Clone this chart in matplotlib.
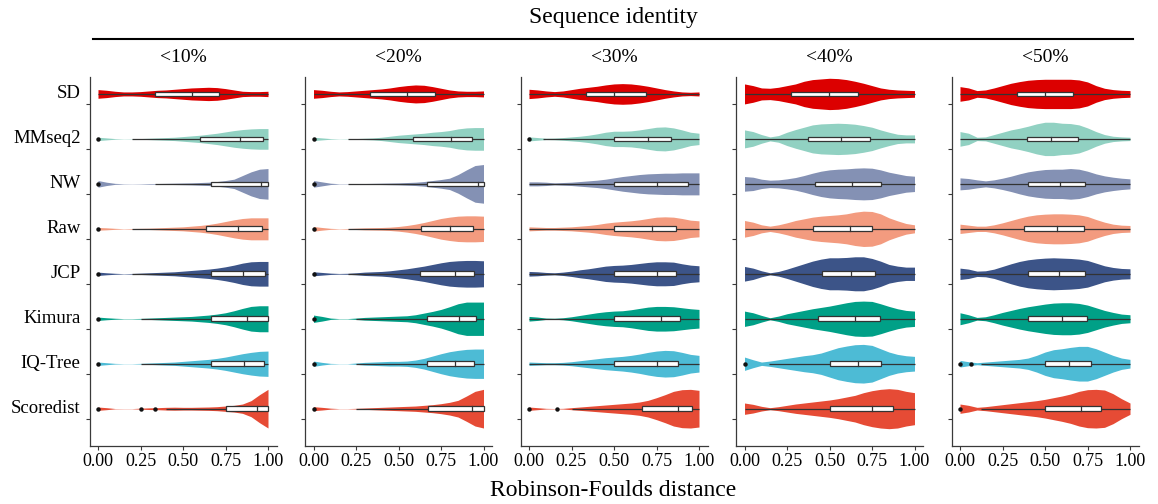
import matplotlib
matplotlib.use("Agg")
import matplotlib.pyplot as plt
from matplotlib.patches import Rectangle
import numpy as np

plt.rcParams['font.family'] = ['Liberation Serif', 'DejaVu Serif']

# ---------------- data ----------------
methods = ["SD", "MMseq2", "NW", "Raw", "JCP", "Kimura", "IQ-Tree", "Scoredist"]
panels = ["<10%", "<20%", "<30%", "<40%", "<50%"]
colors = ["#DC0000", "#91D1C2", "#8491B4", "#F39B7F", "#3C5488", "#00A087", "#4DBBD5", "#E64B35"]
xticks = [0.00, 0.25, 0.50, 0.75, 1.00]
xticklabels = ["0.00", "0.25", "0.50", "0.75", "1.00"]

# grid of distance values on which violin densities were read
grid = [0.00, 0.05, 0.10, 0.15, 0.20, 0.25, 0.30, 0.35, 0.40, 0.45, 0.50,
        0.55, 0.60, 0.65, 0.70, 0.75, 0.80, 0.85, 0.90, 0.95, 1.00]

# relative violin densities (half-widths, arbitrary units), rows follow `methods`
dens_10 = [
    [13, 11, 8, 6, 6, 7, 9, 11, 12, 14, 16, 18, 19, 20, 19, 16, 12, 8, 7, 7, 8],
    [5, 3, 1, 0.3, 0.5, 1, 2, 3, 4, 5, 7, 9, 11, 14, 17, 21, 25, 28, 30, 31, 31],
    [10, 5, 1.5, 0.5, 0.3, 0.5, 1, 1, 1.5, 2, 2.5, 3, 4, 5, 7, 10, 14, 25, 36, 44, 46],
    [4, 3, 1.5, 0.5, 1, 1.5, 2, 3, 4, 5, 6, 8, 10, 13, 17, 22, 27, 31, 33, 33, 33],
    [5, 3, 1.5, 0.5, 1, 2, 3, 4, 5, 6, 8, 10, 12, 14, 17, 21, 26, 32, 36, 37, 37],
    [5, 3, 1.5, 0.5, 0.5, 1, 2, 3, 4, 5, 6, 7, 9, 11, 14, 18, 24, 31, 37, 39, 39],
    [5, 3, 1, 0.3, 0.3, 1, 2, 3, 4, 5, 7, 9, 11, 13, 16, 20, 25, 30, 34, 37, 38],
    [5, 3, 0.5, 0.3, 0.3, 1.5, 2.5, 3, 4, 4.5, 4, 4, 4.5, 5, 6, 8, 10, 14, 24, 42, 58],
]
dens_20 = [
    [13, 11, 8, 6, 7, 9, 11, 13, 15, 18, 22, 25, 27, 26, 22, 17, 12, 9, 8, 8, 9],
    [5, 3, 1, 0.3, 0.5, 1, 2, 3, 5, 8, 11, 13, 15, 17, 20, 22, 25, 30, 33, 34, 34],
    [10, 6, 2, 0.5, 0.5, 1, 1, 1.5, 2, 2.5, 3, 4, 5, 7, 10, 13, 17, 28, 42, 55, 58],
    [7, 4, 1.5, 0.5, 1, 2, 3, 3.5, 4, 5, 7, 10, 14, 19, 25, 31, 35, 38, 39, 39, 38],
    [6, 4, 2, 1, 1.5, 3, 5, 6, 7, 9, 12, 15, 19, 23, 28, 33, 37, 39, 40, 40, 39],
    [11, 7, 2, 0.5, 0.5, 2, 4, 5, 6, 7, 8, 9, 12, 17, 22, 28, 36, 45, 50, 50, 50],
    [8, 4, 1, 0.3, 0.3, 2, 4, 5, 6, 7, 7, 8, 11, 16, 23, 30, 36, 40, 43, 44, 44],
    [6, 4, 1.5, 0.3, 0.3, 1, 2, 3, 4, 5, 6, 7, 8, 10, 12, 15, 19, 25, 38, 52, 58],
]
dens_30 = [
    [14, 12, 9, 7, 9, 13, 17, 20, 23, 27, 30, 31, 30, 27, 23, 18, 13, 9, 6, 5, 6],
    [6, 4, 2, 2.5, 4, 6, 8, 11, 15, 20, 23, 23, 24, 27, 31, 35, 36, 33, 27, 20, 17],
    [6, 6, 5, 3, 4, 5, 7, 9, 11, 14, 18, 22, 25, 28, 30, 31, 32, 32, 33, 33, 33],
    [6, 5, 4, 4, 5, 6, 8, 10, 13, 17, 20, 22, 24, 27, 31, 35, 36, 35, 31, 26, 24],
    [7, 6, 4, 3, 5, 8, 12, 15, 19, 23, 25, 26, 28, 31, 34, 36, 36, 35, 30, 26, 24],
    [7, 5, 2, 1.5, 3, 6, 10, 14, 18, 21, 23, 24, 27, 31, 35, 37, 37, 36, 33, 30, 28],
    [5, 4, 3, 3, 4, 6, 9, 12, 15, 18, 20, 22, 25, 29, 34, 38, 40, 39, 34, 28, 25],
    [5, 3, 1, 0.5, 1, 3, 5, 7, 9, 11, 13, 15, 17, 20, 25, 33, 42, 52, 57, 58, 55],
]
dens_40 = [
    [30, 25, 18, 17, 20, 25, 30, 38, 43, 45, 47, 46, 43, 38, 32, 25, 18, 14, 12, 11, 10],
    [27, 22, 13, 6, 10, 20, 28, 35, 42, 45, 46, 47, 46, 44, 40, 35, 27, 20, 14, 12, 12],
    [22, 20, 14, 11, 12, 15, 19, 25, 32, 38, 42, 44, 45, 47, 48, 47, 42, 35, 30, 25, 23],
    [25, 20, 12, 8, 12, 18, 25, 30, 35, 38, 40, 42, 45, 50, 53, 52, 45, 33, 24, 16, 12],
    [22, 17, 9, 3, 7, 14, 22, 30, 38, 44, 48, 48, 49, 51, 51, 46, 38, 28, 23, 20, 20],
    [23, 18, 10, 3, 8, 15, 20, 25, 30, 34, 38, 43, 48, 52, 53, 52, 45, 37, 30, 25, 23],
    [20, 12, 5, 8, 12, 16, 20, 24, 27, 32, 40, 48, 53, 57, 58, 55, 45, 35, 28, 24, 22],
    [17, 13, 7, 3, 6, 10, 14, 17, 20, 23, 26, 30, 35, 40, 48, 54, 58, 60, 58, 52, 48],
]
dens_50 = [
    [22, 18, 10, 12, 18, 25, 32, 37, 41, 43, 44, 44, 44, 44, 42, 36, 25, 17, 13, 11, 10],
    [22, 17, 5, 6, 13, 20, 27, 32, 38, 45, 50, 50, 47, 46, 42, 33, 22, 13, 8, 6, 5],
    [18, 16, 12, 9, 12, 17, 23, 30, 36, 40, 43, 44, 44, 46, 44, 38, 30, 24, 20, 17, 15],
    [14, 11, 8, 8, 12, 18, 25, 32, 38, 42, 44, 45, 45, 44, 42, 37, 28, 20, 14, 11, 10],
    [17, 14, 8, 9, 14, 22, 30, 37, 42, 45, 47, 48, 47, 46, 44, 40, 32, 24, 19, 16, 15],
    [18, 12, 4, 6, 12, 19, 25, 31, 36, 40, 44, 47, 48, 48, 46, 41, 33, 25, 19, 14, 12],
    [10, 6, 3, 5, 7, 9, 11, 13, 17, 25, 35, 42, 45, 49, 52, 52, 45, 35, 25, 17, 13],
    [14, 10, 4, 6, 9, 12, 15, 18, 21, 24, 28, 33, 38, 44, 52, 57, 58, 56, 45, 30, 17],
]

# box statistics per panel (rows follow `methods`)
q1_10 = [0.333, 0.600, 0.667, 0.636, 0.667, 0.667, 0.667, 0.752]
med_10 = [0.550, 0.833, 0.960, 0.821, 0.854, 0.876, 0.856, 0.933]
q3_10 = [0.714, 0.968, 1.000, 0.967, 0.984, 1.000, 0.974, 1.000]
wlo_10 = [0.000, 0.200, 0.333, 0.200, 0.200, 0.250, 0.250, 0.400]
out_10 = [[], [0.0], [0.0], [0.0], [0.0], [0.0], [0.0], [0.0, 0.25, 0.333]]

q1_20 = [0.333, 0.587, 0.667, 0.634, 0.628, 0.667, 0.667, 0.673]
med_20 = [0.550, 0.809, 0.969, 0.800, 0.835, 0.858, 0.835, 0.931]
q3_20 = [0.714, 0.935, 1.000, 0.937, 0.947, 0.955, 0.947, 1.000]
wlo_20 = [0.000, 0.200, 0.200, 0.200, 0.200, 0.250, 0.250, 0.250]
out_20 = [[], [0.0], [0.0], [0.0], [0.0], [0.0], [0.0], [0.0]]

q1_30 = [0.333, 0.500, 0.500, 0.500, 0.500, 0.500, 0.500, 0.667]
med_30 = [0.500, 0.700, 0.750, 0.722, 0.750, 0.778, 0.750, 0.878]
q3_30 = [0.689, 0.833, 0.935, 0.864, 0.866, 0.890, 0.878, 0.957]
wlo_30 = [0.000, 0.083, 0.000, 0.000, 0.000, 0.000, 0.000, 0.250]
out_30 = [[], [0.0], [], [], [], [], [], [0.0, 0.167]]

q1_40 = [0.274, 0.374, 0.415, 0.400, 0.455, 0.431, 0.500, 0.500]
med_40 = [0.496, 0.569, 0.634, 0.618, 0.628, 0.652, 0.665, 0.750]
q3_40 = [0.665, 0.740, 0.800, 0.748, 0.770, 0.795, 0.800, 0.876]
wlo_40 = [0.000, 0.000, 0.000, 0.000, 0.000, 0.000, 0.143, 0.000]
out_40 = [[], [], [], [], [], [], [0.0], []]

q1_50 = [0.333, 0.392, 0.400, 0.376, 0.400, 0.400, 0.500, 0.500]
med_50 = [0.498, 0.535, 0.589, 0.569, 0.581, 0.600, 0.644, 0.713]
q3_50 = [0.665, 0.693, 0.738, 0.730, 0.736, 0.748, 0.770, 0.829]
wlo_50 = [0.000, 0.000, 0.000, 0.000, 0.000, 0.000, 0.125, 0.125]
out_50 = [[], [], [], [], [], [], [0.0, 0.0667], [0.0]]

whisker_hi = 1.0

DENS = [dens_10, dens_20, dens_30, dens_40, dens_50]
Q1 = [q1_10, q1_20, q1_30, q1_40, q1_50]
MED = [med_10, med_20, med_30, med_40, med_50]
Q3 = [q3_10, q3_20, q3_30, q3_40, q3_50]
WLO = [wlo_10, wlo_20, wlo_30, wlo_40, wlo_50]
OUT = [out_10, out_20, out_30, out_40, out_50]

# ---------------- layout / style ----------------
W, H = 1158, 504
fig = plt.figure(figsize=(W / 100, H / 100), dpi=100)
width_scale = 1 / 134.9      # density units -> row units
nudge = 0.23                 # violins sit slightly above their tick
box_h = 0.105
line_c = "#333333"
axis_c = "#3a3a3a"

ax_w = 187
ax_bottom_px = 446
ax_top_px = 77.3
xg = np.array(grid)

for p in range(5):
    left_px = 89.5 + p * 215.5
    ax = fig.add_axes([left_px / W, (H - ax_bottom_px) / H, ax_w / W,
                       (ax_bottom_px - ax_top_px) / H])
    ax.set_xlim(-0.05, 1.05)
    ax.set_ylim(len(methods) + 0.6, 0.4)
    for s in ["top", "right"]:
        ax.spines[s].set_visible(False)
    for s in ["left", "bottom"]:
        ax.spines[s].set_color(axis_c)
        ax.spines[s].set_linewidth(0.9)
    ax.set_yticks(np.arange(1, len(methods) + 1))
    ax.set_yticklabels([])
    ax.set_xticks(xticks)
    ax.set_xticklabels(xticklabels, fontsize=13)
    ax.tick_params(axis="both", length=3, width=0.8, color=axis_c, pad=2)
    ax.set_facecolor("white")

    for i, m in enumerate(methods):
        yc = i + 1 - nudge
        hw = np.array(DENS[p][i]) * width_scale
        ax.fill_between(xg, yc - hw, yc + hw, color=colors[i], lw=0, zorder=1)
        ax.plot([WLO[p][i], whisker_hi], [yc, yc], color=line_c, lw=0.9, zorder=2,
                solid_capstyle="butt")
        ax.add_patch(Rectangle((Q1[p][i], yc - box_h / 2), Q3[p][i] - Q1[p][i], box_h,
                               facecolor="white", edgecolor=line_c, lw=0.9, zorder=3))
        ax.plot([MED[p][i], MED[p][i]], [yc - box_h / 2, yc + box_h / 2],
                color=line_c, lw=0.9, zorder=4)
        if OUT[p][i]:
            ax.plot(OUT[p][i], [yc] * len(OUT[p][i]), "o", color="#111111",
                    ms=3.2, mew=0, zorder=5)
        if p == 0:
            ax.annotate(m, xy=(0, yc), xycoords=("axes fraction", "data"),
                        xytext=(-6.5, 0), textcoords="offset points",
                        ha="right", va="center", fontsize=13.5)

    cx = (left_px + ax_w / 2) / W
    fig.text(cx, (H - 57) / H, panels[p], ha="center", va="center", fontsize=14)

# strip header
fig.text(613 / W, (H - 18) / H, "Sequence identity", ha="center", va="center", fontsize=17)
fig.add_artist(plt.Line2D([93 / W, 1133 / W], [(H - 39) / H, (H - 39) / H],
                          color="black", lw=1.5, transform=fig.transFigure))
fig.text(613 / W, (H - 490) / H, "Robinson-Foulds distance", ha="center", va="center",
         fontsize=17)

fig.savefig("out.png", dpi=100, facecolor="white")
